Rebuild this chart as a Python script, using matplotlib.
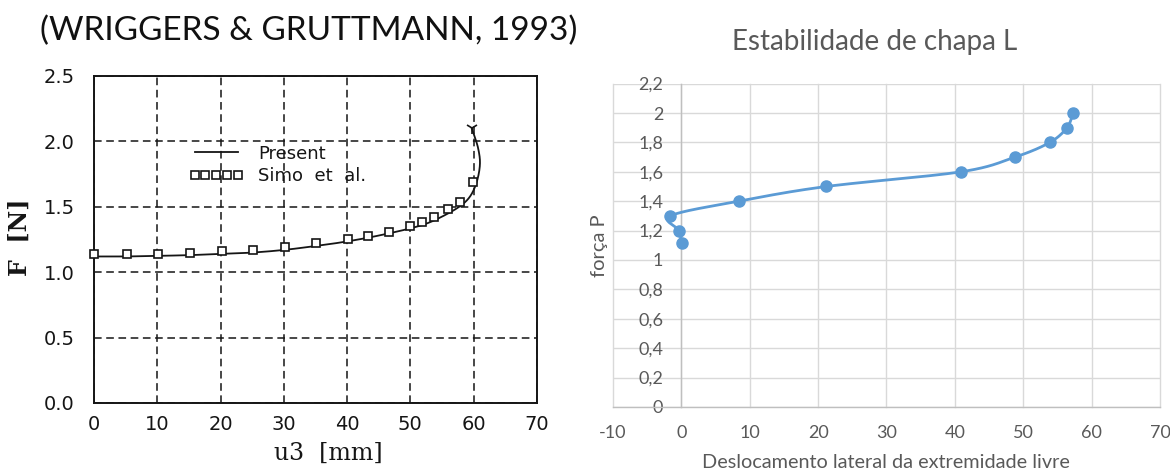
import numpy as np
import matplotlib
matplotlib.use("Agg")
import matplotlib.pyplot as plt
from matplotlib.ticker import FuncFormatter

# ---- Left panel: reference results (F vs u3) ----
present_u3 = [0, 5, 10, 15, 20, 25, 30, 35, 40, 45, 50, 53, 56, 58, 59.3, 60.2, 60.8, 61.0, 60.7, 60.2, 59.7]
present_F = [1.12, 1.12, 1.125, 1.13, 1.14, 1.15, 1.17, 1.20, 1.235, 1.28, 1.335, 1.38, 1.45, 1.51, 1.57,
             1.65, 1.75, 1.85, 1.95, 2.03, 2.10]

simo_u3 = [0, 5.2, 10.2, 15.2, 20.2, 25.2, 30.2, 35.1, 40.1, 43.3, 46.6, 49.9, 51.8, 53.8, 55.9, 57.9, 59.9]
simo_F = [1.14, 1.14, 1.14, 1.145, 1.16, 1.17, 1.19, 1.22, 1.25, 1.28, 1.31, 1.35, 1.38, 1.42, 1.48, 1.54, 1.69]

left_xticks = [0, 10, 20, 30, 40, 50, 60, 70]
left_yticks = [0.0, 0.5, 1.0, 1.5, 2.0, 2.5]

# ---- Right panel: computed stability curve ----
desloc = [0.05, -0.35, -1.6, 8.4, 21.2, 40.9, 48.8, 53.9, 56.4, 57.3]
forca = [1.114, 1.2, 1.3, 1.4, 1.5, 1.6, 1.7, 1.8, 1.9, 2.0]

right_xticks = [-10, 0, 10, 20, 30, 40, 50, 60, 70]
right_yticks = [0.0, 0.2, 0.4, 0.6, 0.8, 1.0, 1.2, 1.4, 1.6, 1.8, 2.0, 2.2]

INK = "#151515"
GREY_TXT = "#595959"
BLUE = "#5B9BD5"


def catmull_rom(xs, ys, n=24):
    """Smooth curve through the points (spreadsheet-style smoothed line)."""
    p = np.column_stack([xs, ys]).astype(float)
    p = np.vstack([p[0], p, p[-1]])
    out = []
    for i in range(1, len(p) - 2):
        p0, p1, p2, p3 = p[i - 1], p[i], p[i + 1], p[i + 2]
        t = np.linspace(0, 1, n, endpoint=False)[:, None]
        seg = 0.5 * ((2 * p1) + (-p0 + p2) * t + (2 * p0 - 5 * p1 + 4 * p2 - p3) * t ** 2
                     + (-p0 + 3 * p1 - 3 * p2 + p3) * t ** 3)
        out.append(seg)
    out.append(p[-2][None, :])
    c = np.vstack(out)
    return c[:, 0], c[:, 1]


fig = plt.figure(figsize=(11.7, 4.71), dpi=100)
fig.patch.set_facecolor("white")

# ================= Left panel =================
axL = fig.add_axes([0.0803, 0.1444, 0.3786, 0.6943])
axL.set_xlim(0, 70)
axL.set_ylim(0, 2.5)
axL.set_xticks(left_xticks)
axL.set_yticks(left_yticks)
axL.xaxis.set_major_formatter(FuncFormatter(lambda v, _: f"{v:.0f}"))
axL.yaxis.set_major_formatter(FuncFormatter(lambda v, _: f"{v:.1f}"))
axL.grid(True, color=INK, linestyle=(0, (5, 3)), linewidth=1.1)
axL.set_axisbelow(True)
for s in axL.spines.values():
    s.set_color(INK)
    s.set_linewidth(1.4)
axL.tick_params(length=0, labelsize=14, colors=INK, labelcolor=INK)
axL.tick_params(axis="y", pad=14)
axL.tick_params(axis="x", pad=9)
for lab in axL.get_xticklabels() + axL.get_yticklabels():
    lab.set_family("DejaVu Sans")

cx, cy = catmull_rom(present_u3, present_F, n=12)
axL.plot(cx, cy, color=INK, linewidth=1.3, label="Present", zorder=3)
axL.plot(present_u3[-1], present_F[-1], marker="1", markersize=9, color=INK,
         markeredgewidth=1.2, zorder=3)
axL.plot(simo_u3, simo_F, linestyle="none", marker="s", markersize=6,
         markerfacecolor="white", markeredgecolor=INK, markeredgewidth=1.2,
         label="Simo  et  al.", zorder=4, clip_on=False)

leg = axL.legend(loc="upper left", bbox_to_anchor=(0.215, 0.79), frameon=False,
                 numpoints=5, handlelength=3.0, handletextpad=0.8, borderpad=0,
                 borderaxespad=0, labelspacing=0.25, markerscale=0.85,
                 prop={"family": "DejaVu Sans", "size": 13})
for t in leg.get_texts():
    t.set_color(INK)

fig.text(0.281, 1 - 453 / 471, "u3  [mm]", family="DejaVu Serif", fontsize=17,
         ha="center", va="center", color=INK)
fig.text(20 / 1170, 1 - 237 / 471, "F  [N]", family="DejaVu Serif", fontsize=17,
         fontweight="bold", rotation=90, ha="center", va="center", color=INK)

fig.text(40 / 1170, 1 - 31 / 471, "(WRIGGERS & GRUTTMANN, 1993)", family="Lato",
         fontsize=24, ha="left", va="center", color="#111111")

# ================= Right panel =================
axR = fig.add_axes([0.5239, 0.1359, 0.4675, 0.6866])
axR.set_xlim(-10, 70)
axR.set_ylim(0, 2.2)
axR.set_xticks(right_xticks)
axR.set_yticks(right_yticks)
axR.xaxis.set_major_formatter(FuncFormatter(lambda v, _: f"{v:g}"))
axR.yaxis.set_major_formatter(FuncFormatter(lambda v, _: f"{round(v, 1):g}".replace(".", ",")))
axR.grid(True, color="#D9D9D9", linewidth=1.0)
axR.set_axisbelow(True)
for gl in axR.get_xgridlines() + axR.get_ygridlines():
    gl.set_clip_on(False)
for side in ("top", "right"):
    axR.spines[side].set_visible(False)
axR.spines["left"].set_position(("data", 0))
axR.spines["left"].set_color("#BFBFBF")
axR.spines["bottom"].set_color("#BFBFBF")
axR.spines["left"].set_linewidth(1.0)
axR.spines["bottom"].set_linewidth(1.0)
axR.tick_params(length=0, labelsize=13, labelcolor=GREY_TXT)
axR.tick_params(axis="y", pad=13)
axR.tick_params(axis="x", pad=13)
for lab in axR.get_xticklabels() + axR.get_yticklabels():
    lab.set_family("Lato")

sx, sy = catmull_rom(desloc, forca, n=30)
axR.plot(sx, sy, color=BLUE, linewidth=2.0, solid_capstyle="round", zorder=3)
axR.plot(desloc, forca, linestyle="none", marker="o", markersize=8,
         color=BLUE, zorder=4)

fig.text(875 / 1170, 1 - 42 / 471, "Estabilidade de chapa L", family="Lato",
         fontsize=20, ha="center", va="center", color=GREY_TXT)
fig.text(886 / 1170, 1 - 462 / 471, "Deslocamento lateral da extremidade livre",
         family="Lato", fontsize=14.3, ha="center", va="center", color=GREY_TXT)
fig.text(599 / 1170, 1 - 246 / 471, "força P", family="Lato", fontsize=14.5,
         rotation=90, ha="center", va="center", color=GREY_TXT)

fig.savefig("out.png", dpi=100, facecolor="white")
